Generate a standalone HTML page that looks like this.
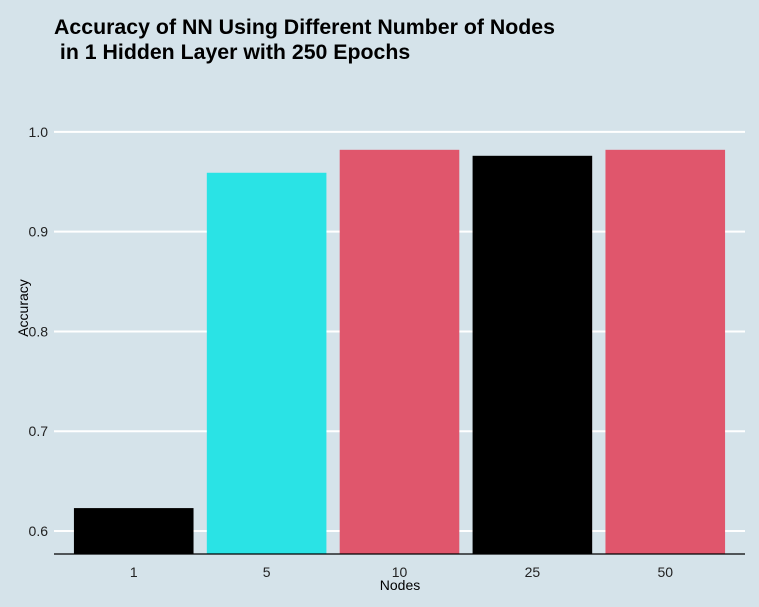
<!DOCTYPE html>
<html><head><meta charset="utf-8"><style>
body{margin:0;background:#d5e3ea;}
svg{display:block;font-family:"Liberation Sans",Arial,sans-serif;}
</style></head><body>
<svg id="chart" width="759" height="607">
<rect width="759" height="607" fill="#d5e3ea"/>
<text x="54" y="34" font-size="21.3" font-weight="bold" fill="#000" textLength="501">Accuracy of NN Using Different Number of Nodes</text>
<text x="54" y="59" font-size="21.3" font-weight="bold" fill="#000" xml:space="preserve"> in 1 Hidden Layer with 250 Epochs</text>
<g id="grid"></g><g id="bars"></g><g id="labels"></g>
<line x1="54" x2="745" y1="554" y2="554" stroke="#000" stroke-width="1.2"/>
<text x="400" y="590" font-size="14" text-anchor="middle">Nodes</text>
<text transform="translate(28,308) rotate(-90)" font-size="14" text-anchor="middle">Accuracy</text>
</svg>
<script>
const categories=["1","5","10","25","50"];
const accuracy=[0.623,0.959,0.982,0.976,0.982];
const colors=["#000000","#2ae3e5","#e0566c","#000000","#e0566c"];
const yTicks=[0.6,0.7,0.8,0.9,1.0];
const tickLabels=["0.6","0.7","0.8","0.9","1.0"];
const ns="http://www.w3.org/2000/svg";
const yMin=0.577, yBase=554, pxPer=998;
const y=v=>yBase-(v-yMin)*pxPer;
const x0=54,x1=745,n=categories.length;
const step=(x1-x0)/(n-1+1.2);
const cx=i=>x0+step*(0.6+i);
const bw=step*0.9;
const g=document.getElementById('grid'),b=document.getElementById('bars'),l=document.getElementById('labels');
yTicks.forEach((t,i)=>{
 const ln=document.createElementNS(ns,'line');
 ln.setAttribute('x1',x0);ln.setAttribute('x2',x1);ln.setAttribute('y1',y(t));ln.setAttribute('y2',y(t));
 ln.setAttribute('stroke','#fff');ln.setAttribute('stroke-width','2');
 
 
 g.appendChild(ln);
 const tx=document.createElementNS(ns,'text');
 tx.setAttribute('x',48);tx.setAttribute('y',y(t)+5);tx.setAttribute('text-anchor','end');tx.setAttribute('font-size','14');
 tx.setAttribute('fill','#222');
 tx.textContent=tickLabels[i];
 
 
 l.appendChild(tx);
});
categories.forEach((c,i)=>{
 const r=document.createElementNS(ns,'rect');
 r.setAttribute('x',cx(i)-bw/2);r.setAttribute('width',bw);
 r.setAttribute('y',y(accuracy[i]));r.setAttribute('height',yBase-y(accuracy[i]));
 r.setAttribute('fill',colors[i]);
 
 
 b.appendChild(r);
 const tx=document.createElementNS(ns,'text');
 tx.setAttribute('x',cx(i));tx.setAttribute('y',577);tx.setAttribute('text-anchor','middle');tx.setAttribute('font-size','14');
 tx.setAttribute('fill','#222');
 tx.textContent=c;
 
 
 l.appendChild(tx);
});
</script>
</body></html>
